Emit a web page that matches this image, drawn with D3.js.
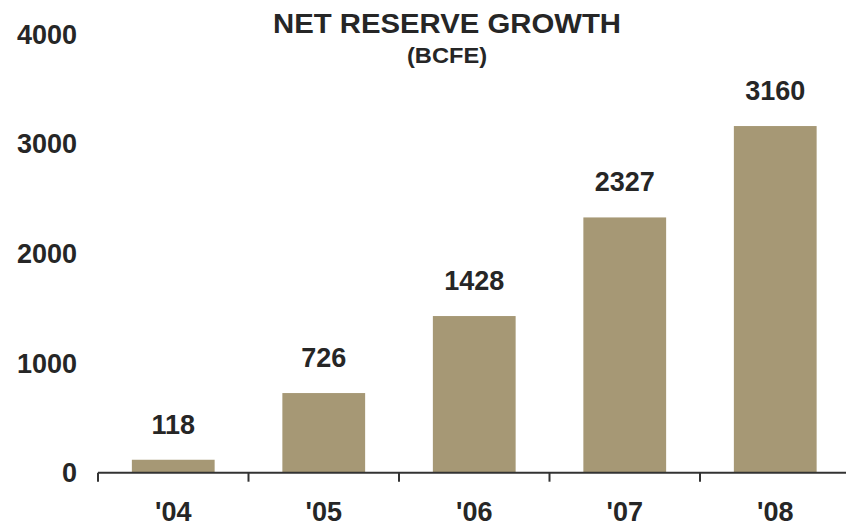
<!DOCTYPE html>
<html>
<head>
<meta charset="utf-8">
<script src="https://cdn.jsdelivr.net/npm/d3@7"></script>
<style>
  body { margin: 0; background: #fff; }
  text { font-family: "Liberation Sans", Arial, sans-serif; font-weight: bold; fill: #262626; }
</style>
</head>
<body>
<div id="chart"></div>
<script>
var years = ["'04", "'05", "'06", "'07", "'08"];
var reserves = [118, 726, 1428, 2327, 3160];
var yTicks = [0, 1000, 2000, 3000, 4000];

var svgWidth = 846;
var svgHeight = 527;

var svg = d3.select("#chart")
  .append("svg")
  .attr("width", svgWidth)
  .attr("height", svgHeight);

var xScale = d3.scaleBand()
  .domain(years)
  .range([98, 850.5])
  .paddingInner(0.45)
  .paddingOuter(0.225);

var yScale = d3.scaleLinear()
  .domain([0, 4000])
  .range([472.7, 33.9]);

// bars
svg.selectAll(".bar")
  .data(reserves)
  .enter()
  .append("rect")
  .attr("class", "bar")
  .attr("x", (d, i) => xScale(years[i]))
  .attr("y", d => yScale(d))
  .attr("width", xScale.bandwidth())
  .attr("height", d => yScale(0) - yScale(d))
  .attr("fill", "#a69875");

// value labels
svg.selectAll(".val")
  .data(reserves)
  .enter()
  .append("text")
  .attr("class", "val")
  .attr("x", (d, i) => xScale(years[i]) + xScale.bandwidth() / 2)
  .attr("y", d => yScale(d) - 26)
  .attr("text-anchor", "middle")
  .attr("font-size", "27px")
  .text(d => d);

// y labels (no axis line)
svg.selectAll(".ylab")
  .data(yTicks)
  .enter()
  .append("text")
  .attr("class", "ylab")
  .attr("x", 77)
  .attr("y", d => yScale(d))
  .attr("dy", "0.36em")
  .attr("text-anchor", "end")
  .attr("font-size", "27px")
  .text(d => d);

// x axis
var xAxisG = svg.append("g");
xAxisG.append("line")
  .attr("x1", 98)
  .attr("x2", svgWidth)
  .attr("y1", yScale(0))
  .attr("y2", yScale(0))
  .attr("stroke", "#333")
  .attr("stroke-width", 2);

var step = xScale.step();
xAxisG.selectAll(".tick")
  .data(years)
  .enter()
  .append("line")
  .attr("class", "tick")
  .attr("x1", d => xScale(d) - step * 0.225)
  .attr("x2", d => xScale(d) - step * 0.225)
  .attr("y1", yScale(0))
  .attr("y2", yScale(0) + 9)
  .attr("stroke", "#333")
  .attr("stroke-width", 2);

xAxisG.selectAll(".xlab")
  .data(years)
  .enter()
  .append("text")
  .attr("class", "xlab")
  .attr("x", d => xScale(d) + xScale.bandwidth() / 2)
  .attr("y", 521)
  .attr("text-anchor", "middle")
  .attr("font-size", "27px")
  .text(d => d);

// title (the original is set slightly wider than the font)
svg.append("text")
  .attr("x", 273)
  .attr("y", 33)
  .attr("font-size", "27px")
  .attr("textLength", 348)
  .attr("lengthAdjust", "spacingAndGlyphs")
  .text("NET RESERVE GROWTH");

svg.append("text")
  .attr("x", 407)
  .attr("y", 62.5)
  .attr("font-size", "22px")
  .attr("textLength", 80)
  .attr("lengthAdjust", "spacingAndGlyphs")
  .text("(BCFE)");
</script>
</body>
</html>
